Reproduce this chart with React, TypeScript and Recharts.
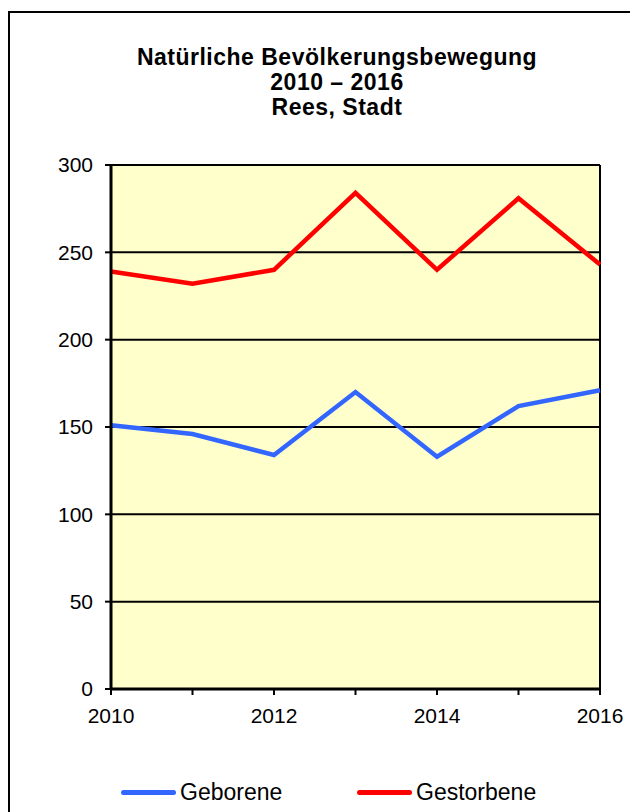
import { LineChart, Line, XAxis, YAxis, CartesianGrid, ReferenceLine, Legend } from "recharts";

const years = [2010, 2011, 2012, 2013, 2014, 2015, 2016];
const geborene = [151, 146, 134, 170, 133, 162, 171];
const gestorbene = [239, 232, 240, 284, 240, 281, 243];
const yTicks = [0, 50, 100, 150, 200, 250, 300];
const titleLines = ["Natürliche Bevölkerungsbewegung", "2010 – 2016", "Rees, Stadt"];

const data = years.map((year, i) => ({ year, geborene: geborene[i], gestorbene: gestorbene[i] }));

const font = "'Liberation Sans', Arial, sans-serif";

const legendItems = [
  { label: "Geborene", color: "#3366FF", x: 111 },
  { label: "Gestorbene", color: "#FF0000", x: 347 },
];

function LegendContent() {
  return (
    <div style={{ position: "relative", height: 30, fontFamily: font, fontSize: 23 }}>
      {legendItems.map((it) => (
        <div
          key={it.label}
          style={{ position: "absolute", left: it.x, top: 0, height: 30, display: "flex", alignItems: "center" }}
        >
          <span
            style={{ display: "inline-block", width: 55, height: 5, borderRadius: 3, background: it.color, marginRight: 4 }}
          />
          <span style={{ color: "#000" }}>{it.label}</span>
        </div>
      ))}
    </div>
  );
}

export default function App() {
  return (
    <div
      style={{
        position: "relative",
        marginTop: 3,
        width: 628,
        height: 810,
        border: "2px solid #000",
        boxSizing: "border-box",
        background: "#fff",
        fontFamily: font,
      }}
    >
      <div
        style={{
          position: "absolute",
          top: 32,
          left: 14,
          width: 626,
          textAlign: "center",
          fontWeight: "bold",
          fontSize: 23,
          lineHeight: "25px",
          letterSpacing: 0.5,
          color: "#000",
        }}
      >
        {titleLines.map((t) => (
          <div key={t}>{t}</div>
        ))}
      </div>
      <div style={{ position: "absolute", top: 0, left: 0 }}>
        <LineChart width={624} height={797} data={data} margin={{ top: 152, right: 34, bottom: 61, left: 41 }}>
          <CartesianGrid vertical={false} stroke="#000" strokeWidth={2} fill="#FFFFCC" fillOpacity={1} />
          <XAxis
            dataKey="year"
            type="number"
            domain={[2010, 2016]}
            ticks={years}
            interval={0}
            tickFormatter={(v) => (v % 2 === 0 ? String(v) : "")}
            tick={{ fill: "#000", fontSize: 21, fontFamily: font }}
            axisLine={{ stroke: "#000", strokeWidth: 3 }}
            tickLine={{ stroke: "#000", strokeWidth: 2 }}
            tickSize={6}
            tickMargin={13}
            height={30}
          />
          <YAxis
            type="number"
            domain={[0, 300]}
            ticks={yTicks}
            interval={0}
            tick={{ fill: "#000", fontSize: 21, fontFamily: font }}
            axisLine={{ stroke: "#000", strokeWidth: 3 }}
            tickLine={{ stroke: "#000", strokeWidth: 2 }}
            tickSize={6}
            tickMargin={12}
            width={60}
          />
          <ReferenceLine x={2016} stroke="#000" strokeWidth={2} />
          <Line dataKey="geborene" stroke="#3366FF" strokeWidth={4.5} dot={false} isAnimationActive={false} />
          <Line dataKey="gestorbene" stroke="#FF0000" strokeWidth={4.5} dot={false} isAnimationActive={false} />
          <Legend
            verticalAlign="bottom"
            content={<LegendContent />}
            wrapperStyle={{ position: "absolute", top: 764, left: 0, width: 624 }}
          />
        </LineChart>
      </div>
    </div>
  );
}
